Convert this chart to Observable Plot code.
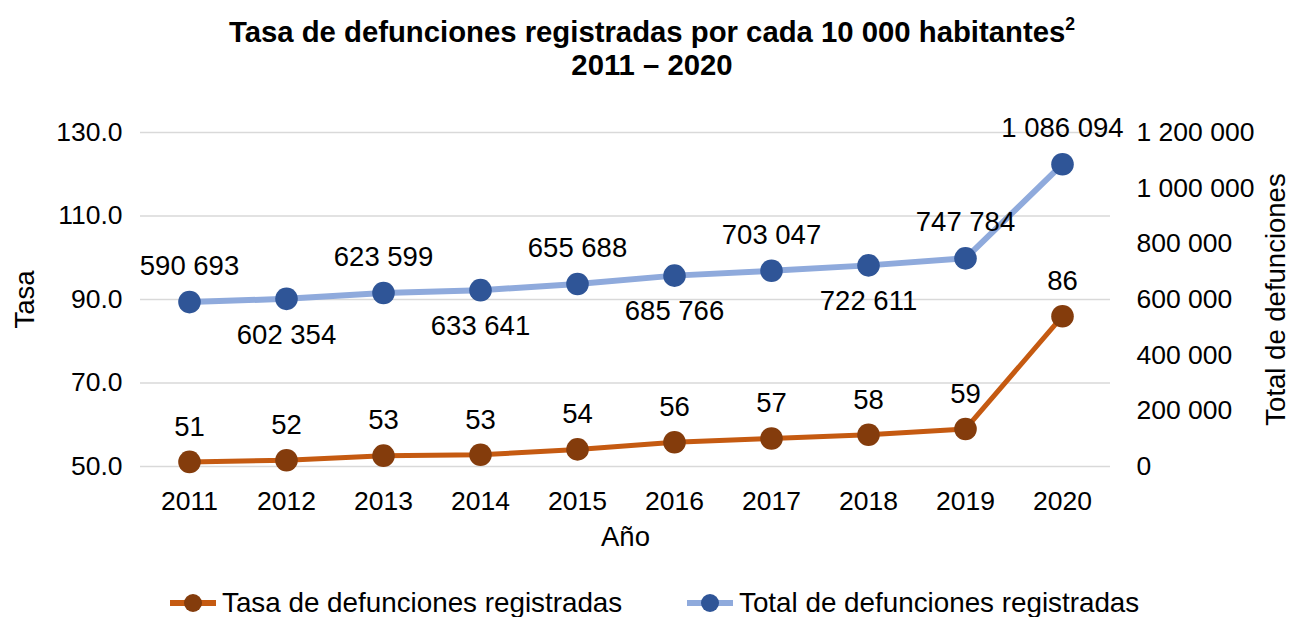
<!DOCTYPE html>
<html><head><meta charset="utf-8">
<script src="https://cdn.jsdelivr.net/npm/d3@7"></script>
<script src="https://cdn.jsdelivr.net/npm/@observablehq/plot@0.6"></script>
<style>
body{margin:0;width:1292px;height:617px;overflow:hidden;background:#fff;font-family:"Liberation Sans",Arial,sans-serif;position:relative;color:#000}
#title{position:absolute;top:0;left:6px;width:1292px;text-align:center;font-weight:bold;font-size:29.3px;line-height:33px;padding-top:15px}
#title sup{font-size:60%;line-height:0;vertical-align:0.7em}
#chart{position:absolute;top:82px;left:0}
#legend{position:absolute;top:570px;left:0;width:1292px;height:47px;font-size:27.8px}
.item{position:absolute;top:16px;height:34px;line-height:34px;display:flex;align-items:center;white-space:nowrap}
.item svg{margin-right:6px}
</style></head><body>
<div id="title">Tasa de defunciones registradas por cada 10 000 habitantes<sup>2</sup><br>2011 – 2020</div>
<div id="chart"></div>
<div id="legend"></div>
<script>
const years = ["2011","2012","2013","2014","2015","2016","2017","2018","2019","2020"];
const tasa = [51.1, 51.5, 52.6, 52.8, 54.1, 55.8, 56.7, 57.6, 59.0, 86.0];
const total = [590693, 602354, 623599, 633641, 655688, 685766, 703047, 722611, 747784, 1086094];
const leftTicks = [50, 70, 90, 110, 130];
const rightTicks = [0, 200000, 400000, 600000, 800000, 1000000, 1200000];
const seriesNames = ["Tasa de defunciones registradas", "Total de defunciones registradas"];

const orangeLine = "#C55A11", orangeDot = "#843C0C";
const blueLine = "#8FAADC", blueDot = "#2F5597";

// map right-axis values onto the left (Tasa) scale
const yMin = 50, yMax = 130, rMax = 1200000;
const toLeft = v => yMin + v / rMax * (yMax - yMin);
const fromLeft = d => (d - yMin) / (yMax - yMin) * rMax;
const fmtSpace = d3.formatLocale({thousands: " ", grouping: [3], decimal: ".", currency: ["", ""]}).format(",");

const rows = years.map((y, i) => ({year: y, tasa: tasa[i], total: total[i], totalL: toLeft(total[i]), i}));
const isBelow = d => d.i % 2 === 1 && d.i !== years.length - 1;

const chart = Plot.plot({
  width: 1292,
  height: 488,
  marginTop: 50,
  marginBottom: 104,
  marginLeft: 140,
  marginRight: 182,
  style: {fontFamily: '"Liberation Sans", Arial, sans-serif', color: "#000", background: "transparent"},
  x: {type: "point", domain: years, padding: 0.5},
  y: {domain: [yMin, yMax]},
  marks: [
    Plot.gridY(leftTicks, {stroke: "#d9d9d9", strokeOpacity: 1, strokeWidth: 1.4}),
    Plot.axisY(leftTicks, {anchor: "left", tickSize: 0, tickPadding: 18, tickFormat: d3.format(".1f"), fontSize: 26.5, label: null}),
    Plot.axisY(rightTicks.map(toLeft), {anchor: "right", tickSize: 0, tickPadding: 26, tickFormat: d => fmtSpace(Math.round(fromLeft(d))), fontSize: 26.5, label: null}),
    Plot.axisX({tickSize: 0, tickPadding: 25, fontSize: 26.5, label: null}),
    Plot.text(["Año"], {frameAnchor: "bottom", dy: 79, fontSize: 27.5}),
    Plot.text(["Tasa"], {frameAnchor: "left", textAnchor: "middle", dx: -115, rotate: -90, fontSize: 27.5}),
    Plot.text(["Total de defunciones"], {frameAnchor: "right", textAnchor: "middle", dx: 166, rotate: -90, fontSize: 27.5}),
    Plot.line(rows, {x: "year", y: "totalL", stroke: blueLine, strokeWidth: 6}),
    Plot.dot(rows, {x: "year", y: "totalL", r: 11.3, fill: blueDot}),
    Plot.line(rows, {x: "year", y: "tasa", stroke: orangeLine, strokeWidth: 5}),
    Plot.dot(rows, {x: "year", y: "tasa", r: 11.3, fill: orangeDot}),
    Plot.text(rows, {x: "year", y: "tasa", text: d => String(Math.round(d.tasa)), dy: -35, fontSize: 27.5, fill: "#000"}),
    Plot.text(rows.filter(d => !isBelow(d)), {x: "year", y: "totalL", text: d => fmtSpace(d.total), dy: -36, fontSize: 27.5, fill: "#000"}),
    Plot.text(rows.filter(isBelow), {x: "year", y: "totalL", text: d => fmtSpace(d.total), dy: 36, fontSize: 27.5, fill: "#000"})
  ]
});
document.getElementById("chart").appendChild(chart);

// legend
const legend = document.getElementById("legend");
const legendItems = [
  {name: seriesNames[0], line: orangeLine, dot: orangeDot, left: 170},
  {name: seriesNames[1], line: blueLine, dot: blueDot, left: 687}
];
for (const it of legendItems) {
  const div = document.createElement("div");
  div.className = "item";
  div.style.left = it.left + "px";
  div.innerHTML = `<svg width="46" height="34"><line x1="0" x2="46" y1="17" y2="17" stroke="${it.line}" stroke-width="6"/><circle cx="23" cy="17" r="9" fill="${it.dot}"/></svg><span>${it.name}</span>`;
  legend.appendChild(div);
}
</script>
</body></html>
